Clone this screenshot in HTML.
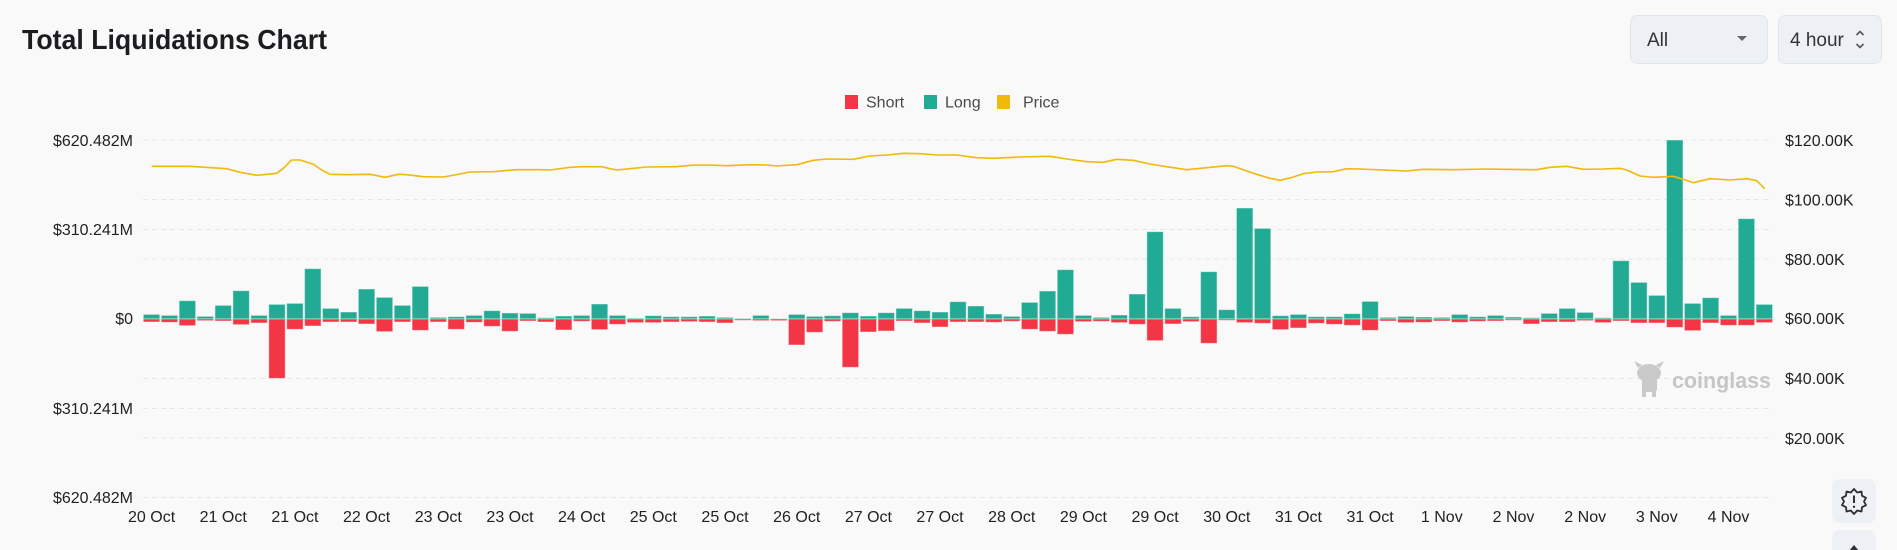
<!DOCTYPE html>
<html>
<head>
<meta charset="utf-8">
<style>
html,body{margin:0;padding:0;background:#f9f9f9;}
svg{display:block;font-family:"Liberation Sans",Arial,sans-serif;}
</style>
</head>
<body>
<svg width="1897" height="550" viewBox="0 0 1897 550" xmlns="http://www.w3.org/2000/svg">
<rect x="0" y="0" width="1897" height="550" fill="#f9f9f9"/>

<!-- Title -->
<text x="22" y="49" font-size="28" font-weight="bold" fill="#1b1d21" textLength="305" lengthAdjust="spacingAndGlyphs">Total Liquidations Chart</text>

<!-- Dropdowns -->
<rect x="1630.5" y="15.5" width="137" height="48" rx="7" fill="#edf1f5" stroke="#dfe5ec"/>
<text x="1647" y="46" font-size="19" fill="#333">All</text>
<path d="M1737 36 L1747 36 L1742 41 Z" fill="#666"/>
<rect x="1778.5" y="15.5" width="103" height="48" rx="7" fill="#edf1f5" stroke="#dfe5ec"/>
<text x="1790" y="46" font-size="19" fill="#333">4 hour</text>
<path d="M1856.5 35 L1860 31.5 L1863.5 35" fill="none" stroke="#555" stroke-width="1.6"/>
<path d="M1856.5 44 L1860 47.5 L1863.5 44" fill="none" stroke="#555" stroke-width="1.6"/>

<!-- Legend -->
<rect x="845" y="95" width="13" height="14" fill="#f23645"/>
<text x="866" y="107.5" font-size="16" fill="#4a4a4a">Short</text>
<rect x="924" y="95" width="13" height="14" fill="#22ab94"/>
<text x="945" y="107.5" font-size="16" fill="#4a4a4a">Long</text>
<rect x="997" y="95" width="13" height="14" fill="#f0b90b"/>
<text x="1023" y="107.5" font-size="16" fill="#4a4a4a">Price</text>

<!-- Gridlines -->
<g stroke="#e6e6e6" stroke-width="1" stroke-dasharray="5,4">
<line x1="143" y1="140" x2="1773" y2="140"/>
<line x1="143" y1="199.5" x2="1773" y2="199.5"/>
<line x1="143" y1="229.5" x2="1773" y2="229.5"/>
<line x1="143" y1="259" x2="1773" y2="259"/>
<line x1="143" y1="318.5" x2="1773" y2="318.5"/>
<line x1="143" y1="378.5" x2="1773" y2="378.5"/>
<line x1="143" y1="408.5" x2="1773" y2="408.5"/>
<line x1="143" y1="438" x2="1773" y2="438"/>
<line x1="143" y1="497.5" x2="1773" y2="497.5"/>
</g>

<!-- Left axis labels -->
<g font-size="16" fill="#222" text-anchor="end">
<text x="133" y="146">$620.482M</text>
<text x="133" y="235">$310.241M</text>
<text x="133" y="324">$0</text>
<text x="133" y="414">$310.241M</text>
<text x="133" y="503">$620.482M</text>
</g>

<!-- Right axis labels -->
<g font-size="16" fill="#222">
<text x="1785" y="146">$120.00K</text>
<text x="1785" y="205.5">$100.00K</text>
<text x="1785" y="265">$80.00K</text>
<text x="1785" y="324">$60.00K</text>
<text x="1785" y="384">$40.00K</text>
<text x="1785" y="444">$20.00K</text>
</g>

<!-- Watermark -->
<g fill="#c9c9c9">
<ellipse cx="1649" cy="373" rx="12" ry="9"/>
<path d="M1638 368 L1634 361 L1642 365 Z"/>
<path d="M1660 368 L1664 361 L1656 365 Z"/>
<rect x="1642" y="378" width="15" height="14" rx="3"/>
<rect x="1642" y="390" width="4" height="7"/>
<rect x="1652" y="390" width="4" height="7"/>
</g>
<text x="1672" y="388" font-size="22" font-weight="bold" fill="#c6c6c6" textLength="99" lengthAdjust="spacingAndGlyphs">coinglass</text>

<!-- Bars -->
<g transform="translate(143.3,120) scale(17.92,0.333333)">
<g fill="#22ab94" stroke="rgba(255,255,255,0.45)" stroke-width="1">
<rect vector-effect="non-scaling-stroke" x="0" y="583" width=".92" height="14"/>
<rect vector-effect="non-scaling-stroke" x="1" y="586" width=".92" height="11"/>
<rect vector-effect="non-scaling-stroke" x="2" y="542" width=".92" height="55"/>
<rect vector-effect="non-scaling-stroke" x="3" y="589" width=".92" height="8"/>
<rect vector-effect="non-scaling-stroke" x="4" y="556" width=".92" height="41"/>
<rect vector-effect="non-scaling-stroke" x="5" y="512" width=".92" height="85"/>
<rect vector-effect="non-scaling-stroke" x="6" y="586" width=".92" height="11"/>
<rect vector-effect="non-scaling-stroke" x="7" y="553" width=".92" height="44"/>
<rect vector-effect="non-scaling-stroke" x="8" y="550" width=".92" height="47"/>
<rect vector-effect="non-scaling-stroke" x="9" y="446" width=".92" height="151"/>
<rect vector-effect="non-scaling-stroke" x="10" y="565" width=".92" height="32"/>
<rect vector-effect="non-scaling-stroke" x="11" y="576" width=".92" height="21"/>
<rect vector-effect="non-scaling-stroke" x="12" y="507" width=".92" height="90"/>
<rect vector-effect="non-scaling-stroke" x="13" y="532" width=".92" height="65"/>
<rect vector-effect="non-scaling-stroke" x="14" y="556" width=".92" height="41"/>
<rect vector-effect="non-scaling-stroke" x="15" y="499" width=".92" height="98"/>
<rect vector-effect="non-scaling-stroke" x="16" y="592" width=".92" height="5"/>
<rect vector-effect="non-scaling-stroke" x="17" y="590" width=".92" height="7"/>
<rect vector-effect="non-scaling-stroke" x="18" y="586" width=".92" height="11"/>
<rect vector-effect="non-scaling-stroke" x="19" y="572" width=".92" height="25"/>
<rect vector-effect="non-scaling-stroke" x="20" y="579" width=".92" height="18"/>
<rect vector-effect="non-scaling-stroke" x="21" y="580" width=".92" height="17"/>
<rect vector-effect="non-scaling-stroke" x="22" y="593" width=".92" height="4"/>
<rect vector-effect="non-scaling-stroke" x="23" y="588" width=".92" height="9"/>
<rect vector-effect="non-scaling-stroke" x="24" y="586" width=".92" height="11"/>
<rect vector-effect="non-scaling-stroke" x="25" y="552" width=".92" height="45"/>
<rect vector-effect="non-scaling-stroke" x="26" y="586" width=".92" height="11"/>
<rect vector-effect="non-scaling-stroke" x="27" y="594" width=".92" height="3"/>
<rect vector-effect="non-scaling-stroke" x="28" y="587" width=".92" height="10"/>
<rect vector-effect="non-scaling-stroke" x="29" y="590" width=".92" height="7"/>
<rect vector-effect="non-scaling-stroke" x="30" y="590" width=".92" height="7"/>
<rect vector-effect="non-scaling-stroke" x="31" y="588" width=".92" height="9"/>
<rect vector-effect="non-scaling-stroke" x="32" y="592" width=".92" height="5"/>
<rect vector-effect="non-scaling-stroke" x="33" y="595" width=".92" height="2"/>
<rect vector-effect="non-scaling-stroke" x="34" y="586" width=".92" height="11"/>
<rect vector-effect="non-scaling-stroke" x="35" y="596" width=".92" height="1"/>
<rect vector-effect="non-scaling-stroke" x="36" y="583" width=".92" height="14"/>
<rect vector-effect="non-scaling-stroke" x="37" y="589" width=".92" height="8"/>
<rect vector-effect="non-scaling-stroke" x="38" y="587" width=".92" height="10"/>
<rect vector-effect="non-scaling-stroke" x="39" y="578" width=".92" height="19"/>
<rect vector-effect="non-scaling-stroke" x="40" y="588" width=".92" height="9"/>
<rect vector-effect="non-scaling-stroke" x="41" y="578" width=".92" height="19"/>
<rect vector-effect="non-scaling-stroke" x="42" y="565" width=".92" height="32"/>
<rect vector-effect="non-scaling-stroke" x="43" y="572" width=".92" height="25"/>
<rect vector-effect="non-scaling-stroke" x="44" y="576" width=".92" height="21"/>
<rect vector-effect="non-scaling-stroke" x="45" y="545" width=".92" height="52"/>
<rect vector-effect="non-scaling-stroke" x="46" y="558" width=".92" height="39"/>
<rect vector-effect="non-scaling-stroke" x="47" y="582" width=".92" height="15"/>
<rect vector-effect="non-scaling-stroke" x="48" y="589" width=".92" height="8"/>
<rect vector-effect="non-scaling-stroke" x="49" y="547" width=".92" height="50"/>
<rect vector-effect="non-scaling-stroke" x="50" y="513" width=".92" height="84"/>
<rect vector-effect="non-scaling-stroke" x="51" y="449" width=".92" height="148"/>
<rect vector-effect="non-scaling-stroke" x="52" y="586" width=".92" height="11"/>
<rect vector-effect="non-scaling-stroke" x="53" y="592" width=".92" height="5"/>
<rect vector-effect="non-scaling-stroke" x="54" y="585" width=".92" height="12"/>
<rect vector-effect="non-scaling-stroke" x="55" y="522" width=".92" height="75"/>
<rect vector-effect="non-scaling-stroke" x="56" y="335" width=".92" height="262"/>
<rect vector-effect="non-scaling-stroke" x="57" y="565" width=".92" height="32"/>
<rect vector-effect="non-scaling-stroke" x="58" y="590" width=".92" height="7"/>
<rect vector-effect="non-scaling-stroke" x="59" y="455" width=".92" height="142"/>
<rect vector-effect="non-scaling-stroke" x="60" y="569" width=".92" height="28"/>
<rect vector-effect="non-scaling-stroke" x="61" y="264" width=".92" height="333"/>
<rect vector-effect="non-scaling-stroke" x="62" y="325" width=".92" height="272"/>
<rect vector-effect="non-scaling-stroke" x="63" y="587" width=".92" height="10"/>
<rect vector-effect="non-scaling-stroke" x="64" y="583" width=".92" height="14"/>
<rect vector-effect="non-scaling-stroke" x="65" y="590" width=".92" height="7"/>
<rect vector-effect="non-scaling-stroke" x="66" y="590" width=".92" height="7"/>
<rect vector-effect="non-scaling-stroke" x="67" y="581" width=".92" height="16"/>
<rect vector-effect="non-scaling-stroke" x="68" y="544" width=".92" height="53"/>
<rect vector-effect="non-scaling-stroke" x="69" y="592" width=".92" height="5"/>
<rect vector-effect="non-scaling-stroke" x="70" y="589" width=".92" height="8"/>
<rect vector-effect="non-scaling-stroke" x="71" y="591" width=".92" height="6"/>
<rect vector-effect="non-scaling-stroke" x="72" y="592" width=".92" height="5"/>
<rect vector-effect="non-scaling-stroke" x="73" y="583" width=".92" height="14"/>
<rect vector-effect="non-scaling-stroke" x="74" y="590" width=".92" height="7"/>
<rect vector-effect="non-scaling-stroke" x="75" y="586" width=".92" height="11"/>
<rect vector-effect="non-scaling-stroke" x="76" y="591" width=".92" height="6"/>
<rect vector-effect="non-scaling-stroke" x="77" y="593" width=".92" height="4"/>
<rect vector-effect="non-scaling-stroke" x="78" y="580" width=".92" height="17"/>
<rect vector-effect="non-scaling-stroke" x="79" y="565" width=".92" height="32"/>
<rect vector-effect="non-scaling-stroke" x="80" y="577" width=".92" height="20"/>
<rect vector-effect="non-scaling-stroke" x="81" y="593" width=".92" height="4"/>
<rect vector-effect="non-scaling-stroke" x="82" y="422" width=".92" height="175"/>
<rect vector-effect="non-scaling-stroke" x="83" y="487" width=".92" height="110"/>
<rect vector-effect="non-scaling-stroke" x="84" y="526" width=".92" height="71"/>
<rect vector-effect="non-scaling-stroke" x="85" y="60" width=".92" height="537"/>
<rect vector-effect="non-scaling-stroke" x="86" y="550" width=".92" height="47"/>
<rect vector-effect="non-scaling-stroke" x="87" y="533" width=".92" height="64"/>
<rect vector-effect="non-scaling-stroke" x="88" y="586" width=".92" height="11"/>
<rect vector-effect="non-scaling-stroke" x="89" y="296" width=".92" height="301"/>
<rect vector-effect="non-scaling-stroke" x="90" y="553" width=".92" height="44"/>
</g>
<g fill="#f23645" stroke="rgba(255,255,255,0.45)" stroke-width="1">
<rect vector-effect="non-scaling-stroke" x="0" y="597" width=".92" height="9"/>
<rect vector-effect="non-scaling-stroke" x="1" y="597" width=".92" height="10"/>
<rect vector-effect="non-scaling-stroke" x="2" y="597" width=".92" height="20"/>
<rect vector-effect="non-scaling-stroke" x="3" y="597" width=".92" height="5"/>
<rect vector-effect="non-scaling-stroke" x="4" y="597" width=".92" height="6"/>
<rect vector-effect="non-scaling-stroke" x="5" y="597" width=".92" height="17"/>
<rect vector-effect="non-scaling-stroke" x="6" y="597" width=".92" height="12"/>
<rect vector-effect="non-scaling-stroke" x="7" y="597" width=".92" height="178"/>
<rect vector-effect="non-scaling-stroke" x="8" y="597" width=".92" height="31"/>
<rect vector-effect="non-scaling-stroke" x="9" y="597" width=".92" height="21"/>
<rect vector-effect="non-scaling-stroke" x="10" y="597" width=".92" height="9"/>
<rect vector-effect="non-scaling-stroke" x="11" y="597" width=".92" height="9"/>
<rect vector-effect="non-scaling-stroke" x="12" y="597" width=".92" height="15"/>
<rect vector-effect="non-scaling-stroke" x="13" y="597" width=".92" height="38"/>
<rect vector-effect="non-scaling-stroke" x="14" y="597" width=".92" height="9"/>
<rect vector-effect="non-scaling-stroke" x="15" y="597" width=".92" height="34"/>
<rect vector-effect="non-scaling-stroke" x="16" y="597" width=".92" height="9"/>
<rect vector-effect="non-scaling-stroke" x="17" y="597" width=".92" height="31"/>
<rect vector-effect="non-scaling-stroke" x="18" y="597" width=".92" height="10"/>
<rect vector-effect="non-scaling-stroke" x="19" y="597" width=".92" height="22"/>
<rect vector-effect="non-scaling-stroke" x="20" y="597" width=".92" height="37"/>
<rect vector-effect="non-scaling-stroke" x="21" y="597" width=".92" height="6"/>
<rect vector-effect="non-scaling-stroke" x="22" y="597" width=".92" height="9"/>
<rect vector-effect="non-scaling-stroke" x="23" y="597" width=".92" height="33"/>
<rect vector-effect="non-scaling-stroke" x="24" y="597" width=".92" height="7"/>
<rect vector-effect="non-scaling-stroke" x="25" y="597" width=".92" height="32"/>
<rect vector-effect="non-scaling-stroke" x="26" y="597" width=".92" height="16"/>
<rect vector-effect="non-scaling-stroke" x="27" y="597" width=".92" height="11"/>
<rect vector-effect="non-scaling-stroke" x="28" y="597" width=".92" height="11"/>
<rect vector-effect="non-scaling-stroke" x="29" y="597" width=".92" height="9"/>
<rect vector-effect="non-scaling-stroke" x="30" y="597" width=".92" height="8"/>
<rect vector-effect="non-scaling-stroke" x="31" y="597" width=".92" height="9"/>
<rect vector-effect="non-scaling-stroke" x="32" y="597" width=".92" height="12"/>
<rect vector-effect="non-scaling-stroke" x="33" y="597" width=".92" height="4"/>
<rect vector-effect="non-scaling-stroke" x="34" y="597" width=".92" height="5"/>
<rect vector-effect="non-scaling-stroke" x="35" y="597" width=".92" height="5"/>
<rect vector-effect="non-scaling-stroke" x="36" y="597" width=".92" height="78"/>
<rect vector-effect="non-scaling-stroke" x="37" y="597" width=".92" height="40"/>
<rect vector-effect="non-scaling-stroke" x="38" y="597" width=".92" height="7"/>
<rect vector-effect="non-scaling-stroke" x="39" y="597" width=".92" height="145"/>
<rect vector-effect="non-scaling-stroke" x="40" y="597" width=".92" height="39"/>
<rect vector-effect="non-scaling-stroke" x="41" y="597" width=".92" height="36"/>
<rect vector-effect="non-scaling-stroke" x="42" y="597" width=".92" height="6"/>
<rect vector-effect="non-scaling-stroke" x="43" y="597" width=".92" height="12"/>
<rect vector-effect="non-scaling-stroke" x="44" y="597" width=".92" height="24"/>
<rect vector-effect="non-scaling-stroke" x="45" y="597" width=".92" height="9"/>
<rect vector-effect="non-scaling-stroke" x="46" y="597" width=".92" height="9"/>
<rect vector-effect="non-scaling-stroke" x="47" y="597" width=".92" height="10"/>
<rect vector-effect="non-scaling-stroke" x="48" y="597" width=".92" height="7"/>
<rect vector-effect="non-scaling-stroke" x="49" y="597" width=".92" height="31"/>
<rect vector-effect="non-scaling-stroke" x="50" y="597" width=".92" height="37"/>
<rect vector-effect="non-scaling-stroke" x="51" y="597" width=".92" height="46"/>
<rect vector-effect="non-scaling-stroke" x="52" y="597" width=".92" height="8"/>
<rect vector-effect="non-scaling-stroke" x="53" y="597" width=".92" height="7"/>
<rect vector-effect="non-scaling-stroke" x="54" y="597" width=".92" height="11"/>
<rect vector-effect="non-scaling-stroke" x="55" y="597" width=".92" height="16"/>
<rect vector-effect="non-scaling-stroke" x="56" y="597" width=".92" height="65"/>
<rect vector-effect="non-scaling-stroke" x="57" y="597" width=".92" height="15"/>
<rect vector-effect="non-scaling-stroke" x="58" y="597" width=".92" height="8"/>
<rect vector-effect="non-scaling-stroke" x="59" y="597" width=".92" height="73"/>
<rect vector-effect="non-scaling-stroke" x="60" y="597" width=".92" height="4"/>
<rect vector-effect="non-scaling-stroke" x="61" y="597" width=".92" height="11"/>
<rect vector-effect="non-scaling-stroke" x="62" y="597" width=".92" height="13"/>
<rect vector-effect="non-scaling-stroke" x="63" y="597" width=".92" height="32"/>
<rect vector-effect="non-scaling-stroke" x="64" y="597" width=".92" height="27"/>
<rect vector-effect="non-scaling-stroke" x="65" y="597" width=".92" height="13"/>
<rect vector-effect="non-scaling-stroke" x="66" y="597" width=".92" height="16"/>
<rect vector-effect="non-scaling-stroke" x="67" y="597" width=".92" height="19"/>
<rect vector-effect="non-scaling-stroke" x="68" y="597" width=".92" height="34"/>
<rect vector-effect="non-scaling-stroke" x="69" y="597" width=".92" height="6"/>
<rect vector-effect="non-scaling-stroke" x="70" y="597" width=".92" height="11"/>
<rect vector-effect="non-scaling-stroke" x="71" y="597" width=".92" height="10"/>
<rect vector-effect="non-scaling-stroke" x="72" y="597" width=".92" height="6"/>
<rect vector-effect="non-scaling-stroke" x="73" y="597" width=".92" height="10"/>
<rect vector-effect="non-scaling-stroke" x="74" y="597" width=".92" height="7"/>
<rect vector-effect="non-scaling-stroke" x="75" y="597" width=".92" height="6"/>
<rect vector-effect="non-scaling-stroke" x="76" y="597" width=".92" height="4"/>
<rect vector-effect="non-scaling-stroke" x="77" y="597" width=".92" height="15"/>
<rect vector-effect="non-scaling-stroke" x="78" y="597" width=".92" height="9"/>
<rect vector-effect="non-scaling-stroke" x="79" y="597" width=".92" height="9"/>
<rect vector-effect="non-scaling-stroke" x="80" y="597" width=".92" height="5"/>
<rect vector-effect="non-scaling-stroke" x="81" y="597" width=".92" height="11"/>
<rect vector-effect="non-scaling-stroke" x="82" y="597" width=".92" height="6"/>
<rect vector-effect="non-scaling-stroke" x="83" y="597" width=".92" height="12"/>
<rect vector-effect="non-scaling-stroke" x="84" y="597" width=".92" height="12"/>
<rect vector-effect="non-scaling-stroke" x="85" y="597" width=".92" height="25"/>
<rect vector-effect="non-scaling-stroke" x="86" y="597" width=".92" height="35"/>
<rect vector-effect="non-scaling-stroke" x="87" y="597" width=".92" height="12"/>
<rect vector-effect="non-scaling-stroke" x="88" y="597" width=".92" height="19"/>
<rect vector-effect="non-scaling-stroke" x="89" y="597" width=".92" height="19"/>
<rect vector-effect="non-scaling-stroke" x="90" y="597" width=".92" height="11"/>
</g>
</g>

<!-- Price line -->
<polyline fill="none" stroke="#f0b90b" stroke-width="1.6" stroke-linejoin="round" stroke-linecap="round" points="
152.3,166.3 190,166.3 226.7,168.7 240,172.3 256.7,175.3 276.7,173.3 283.3,168.3 291.7,160 300,160 313.3,164.3 321.7,170 330,174.3 346.7,174.7 370,174.3 385,177.3 398.3,174.3 406.7,174.7 423.3,176.7 443.3,177 460,174 470,172 493.3,171.7 516.7,169.7 540,169.7
550,170 570,167.3 583.3,166.7 601.7,166.7 610,168.7 616.7,170 630,168.7 646.7,167 676.7,166.7 690,165.3 706.7,165 726.7,165.7 750,164.7 766.7,165 776.7,166 796.7,164.7 813.3,160.3 826.7,159 853.3,159.3 870,156 886.7,155 903.3,153.3 920,153.7 936.7,155 956.7,155
976.7,157.7 993.3,158.3 1020,157 1050,156.3 1066.7,159 1086.7,161.7 1103.3,162.3 1116.7,159.3 1133.3,160.3 1150,164 1166.7,166.7 1186.7,169.7 1206.7,167.7 1226.7,165.7 1233.3,166.3 1253.3,173.3 1270,178.3 1280,180.3 1290,178 1303.3,173.7 1316.7,172 1333.3,171.7 1346.7,168.7 1360,169
1390,170.3 1406.7,171 1423.3,169.3 1453.3,169.7 1486.7,169 1503.3,169.3 1536.7,169.7 1550,167.3 1566.7,166.3 1583.3,169.3 1603.3,169 1620,168.3 1626.7,170 1640,176 1653.3,177.3 1673.3,176.3 1683.3,179.3 1693.3,182.7 1710,178.7 1730,180 1746.7,178.7 1756.7,180.7 1764.3,188.3"/>

<!-- X axis labels -->
<g font-size="16" fill="#222" text-anchor="middle">
<text x="151.6" y="522">20 Oct</text>
<text x="223.2" y="522">21 Oct</text>
<text x="294.9" y="522">21 Oct</text>
<text x="366.6" y="522">22 Oct</text>
<text x="438.3" y="522">23 Oct</text>
<text x="510.0" y="522">23 Oct</text>
<text x="581.6" y="522">24 Oct</text>
<text x="653.3" y="522">25 Oct</text>
<text x="725.0" y="522">25 Oct</text>
<text x="796.7" y="522">26 Oct</text>
<text x="868.4" y="522">27 Oct</text>
<text x="940.0" y="522">27 Oct</text>
<text x="1011.7" y="522">28 Oct</text>
<text x="1083.4" y="522">29 Oct</text>
<text x="1155.1" y="522">29 Oct</text>
<text x="1226.8" y="522">30 Oct</text>
<text x="1298.4" y="522">31 Oct</text>
<text x="1370.1" y="522">31 Oct</text>
<text x="1441.8" y="522">1 Nov</text>
<text x="1513.5" y="522">2 Nov</text>
<text x="1585.2" y="522">2 Nov</text>
<text x="1656.8" y="522">3 Nov</text>
<text x="1728.5" y="522">4 Nov</text>
</g>

<!-- Bottom right buttons -->
<rect x="1832" y="479" width="44" height="44" rx="8" fill="#edf1f5"/>
<polygon fill="none" stroke="#2b2f36" stroke-width="1.8" stroke-linejoin="round" points="1854,489 1857.2,492.5 1861.5,491.5 1862,495.8 1866,497.8 1864,501.5 1866,505.2 1862,507.2 1861.5,511.5 1857.2,510.5 1854,514 1850.8,510.5 1846.5,511.5 1846,507.2 1842,505.2 1844,501.5 1842,497.8 1846,495.8 1846.5,491.5 1850.8,492.5"/>
<line x1="1854" y1="495.5" x2="1854" y2="503" stroke="#2b2f36" stroke-width="2"/>
<circle cx="1854" cy="506.8" r="1.2" fill="#2b2f36"/>
<rect x="1832" y="530" width="44" height="40" rx="8" fill="#edf1f5"/>
<path d="M1849 551 L1854 545 L1859 551 Z" fill="#2b2f36"/>
</svg>
</body>
</html>
